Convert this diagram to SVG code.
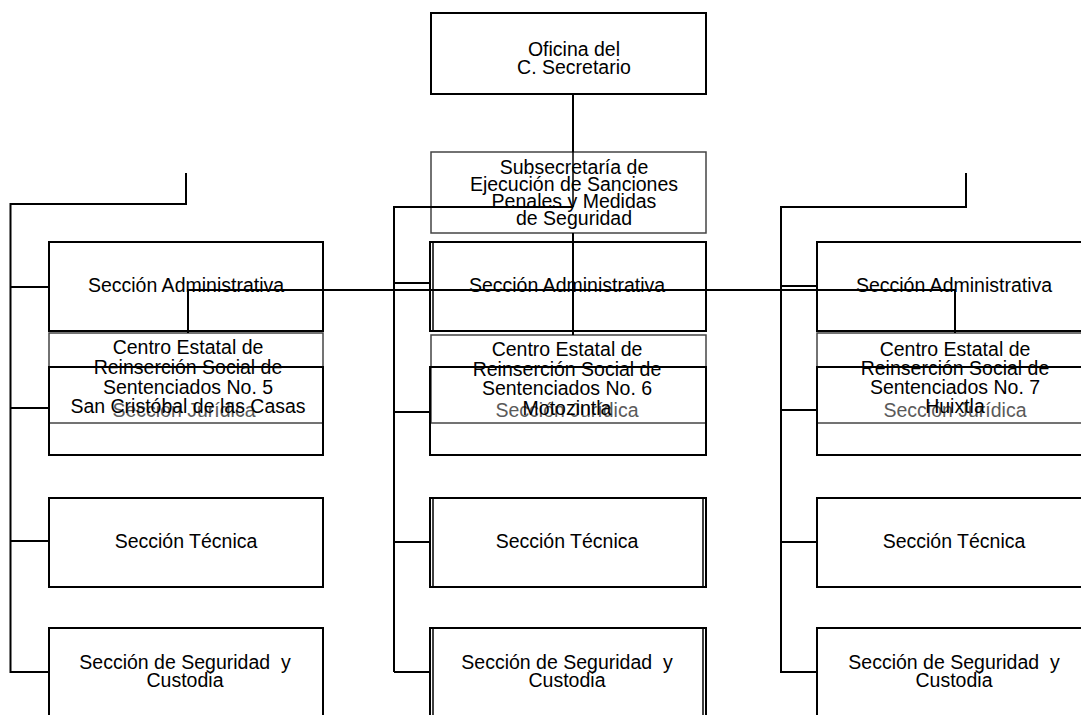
<svg xmlns="http://www.w3.org/2000/svg" width="1081" height="715" viewBox="0 0 1081 715">
<style>
text{font-family:"Liberation Sans",Arial,sans-serif;font-size:19.5px;fill:#000;text-anchor:middle;white-space:pre}
.box{fill:none;stroke:#000;stroke-width:2}
.thin{fill:none;stroke:#444;stroke-width:1.5}
.grey{fill:#5a5a5a}
.c{fill:none;stroke:#000;stroke-width:2}
.ci{fill:none;stroke:#000;stroke-width:1.5}
</style>
<rect width="1081" height="715" fill="#fff"/>
<g id="oficina">
<rect class="box" x="431" y="13" width="275" height="81"/>
<text x="574" y="56">Oficina del</text>
<text x="574" y="74">C. Secretario</text>
</g>
<g id="subsecretaria">
<rect class="thin" x="431" y="152" width="275" height="81"/>
<text x="574" y="174">Subsecretaría de</text>
<text x="574" y="191">Ejecución de Sanciones</text>
<text x="574" y="208">Penales y Medidas</text>
<text x="574" y="225">de Seguridad</text>
</g>
<!-- Left column -->
<g id="admin-5">
<rect class="box" x="49" y="242" width="274" height="89"/>
<text x="186" y="292">Sección Administrativa</text>
</g>
<g id="centro-5">
<rect class="thin" x="49" y="333" width="274" height="90"/>
</g>
<g id="juridica-5">
<rect class="box" x="49" y="367" width="274" height="88"/>
<text class="grey" x="184" y="417">Sección Jurídica</text>
</g>
<g id="centro-5-label">
<text x="188" y="354">Centro Estatal de</text>
<text x="188" y="374">Reinserción Social de</text>
<text x="188" y="394">Sentenciados No. 5</text>
<text x="188" y="413">San Cristóbal de las Casas</text>
</g>
<g id="tecnica-5">
<rect class="box" x="49" y="498" width="274" height="89"/>
<text x="186" y="548">Sección Técnica</text>
</g>
<g id="seguridad-5">
<rect class="box" x="49" y="628" width="274" height="100"/>
<text x="185" y="669">Sección de Seguridad  y</text>
<text x="185" y="687">Custodia</text>
</g>
<!-- Middle column -->
<g id="admin-6">
<rect class="box" x="430" y="242" width="276" height="89"/>
<line class="ci" x1="433" y1="242" x2="433" y2="331"/>
<text x="567" y="292">Sección Administrativa</text>
</g>
<g id="centro-6">
<rect class="thin" x="431" y="335" width="275" height="88"/>
</g>
<g id="juridica-6">
<rect class="box" x="430" y="367" width="276" height="88"/>
<text class="grey" x="567" y="417">Sección Jurídica</text>
</g>
<g id="centro-6-label">
<text x="567" y="356">Centro Estatal de</text>
<text x="567" y="376">Reinserción Social de</text>
<text x="567" y="395">Sentenciados No. 6</text>
<text x="567" y="415">Motozintla</text>
</g>
<g id="tecnica-6">
<rect class="box" x="430" y="498" width="276" height="89"/>
<line class="ci" x1="433" y1="498" x2="433" y2="587"/>
<line class="ci" x1="703" y1="498" x2="703" y2="587"/>
<text x="567" y="548">Sección Técnica</text>
</g>
<g id="seguridad-6">
<rect class="box" x="430" y="628" width="276" height="100"/>
<line class="ci" x1="433" y1="628" x2="433" y2="715"/>
<line class="ci" x1="703" y1="628" x2="703" y2="715"/>
<text x="567" y="669">Sección de Seguridad  y</text>
<text x="567" y="687">Custodia</text>
</g>
<!-- Right column -->
<g id="admin-7">
<rect class="box" x="817" y="242" width="274" height="89"/>
<text x="954" y="292">Sección Administrativa</text>
</g>
<g id="centro-7">
<rect class="thin" x="817" y="333" width="274" height="90"/>
</g>
<g id="juridica-7">
<rect class="box" x="817" y="367" width="274" height="88"/>
<text class="grey" x="955" y="417">Sección Jurídica</text>
</g>
<g id="centro-7-label">
<text x="955" y="356">Centro Estatal de</text>
<text x="955" y="375">Reinserción Social de</text>
<text x="955" y="394">Sentenciados No. 7</text>
<text x="955" y="413">Huixtla</text>
</g>
<g id="tecnica-7">
<rect class="box" x="817" y="498" width="274" height="89"/>
<text x="954" y="548">Sección Técnica</text>
</g>
<g id="seguridad-7">
<rect class="box" x="817" y="628" width="274" height="100"/>
<text x="954" y="669">Sección de Seguridad  y</text>
<text x="954" y="687">Custodia</text>
</g>
<g id="connectors">
<line class="c" x1="573" y1="94" x2="573" y2="152"/>
<line class="ci" x1="573" y1="152" x2="573" y2="207"/>
<polyline class="c" points="394,672 394,207 573,207"/>
<line class="c" x1="573" y1="233" x2="573" y2="335"/>
<polyline class="c" points="188,333 188,290 955,290 955,333"/>
<polyline class="c" points="186,173 186,204 10.5,204 10.5,672 49,672"/>
<line class="c" x1="10.5" y1="287" x2="49" y2="287"/>
<line class="c" x1="10.5" y1="408" x2="49" y2="408"/>
<line class="c" x1="10.5" y1="541" x2="49" y2="541"/>
<line class="c" x1="394" y1="283" x2="430" y2="283"/>
<line class="c" x1="394" y1="412" x2="430" y2="412"/>
<line class="c" x1="394" y1="542" x2="430" y2="542"/>
<line class="c" x1="394" y1="672" x2="430" y2="672"/>
<polyline class="c" points="966,173 966,207 781,207 781,672 817,672"/>
<line class="c" x1="781" y1="286" x2="817" y2="286"/>
<line class="c" x1="781" y1="410" x2="817" y2="410"/>
<line class="c" x1="781" y1="542" x2="817" y2="542"/>
</g>
</svg>
